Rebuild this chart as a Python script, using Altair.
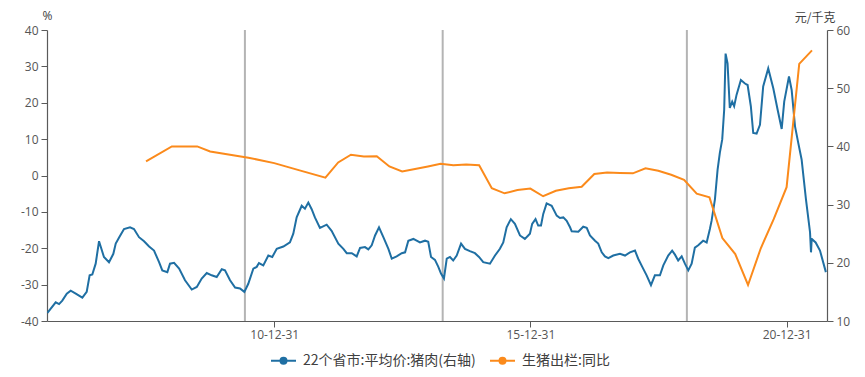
import altair as alt
import pandas as pd

# ---------------- data ----------------
# blue series: 22 provinces average pork price (元/千克), x as decimal years
price_years = [
    2006.570, 2006.734, 2006.798, 2006.863, 2006.948, 2007.027, 2007.124, 2007.253, 2007.339, 2007.397,
    2007.448, 2007.514, 2007.579, 2007.676, 2007.774, 2007.858, 2007.905, 2007.969, 2008.067, 2008.184,
    2008.262, 2008.360, 2008.457, 2008.555, 2008.652, 2008.750, 2008.814, 2008.912, 2008.964, 2009.043,
    2009.140, 2009.257, 2009.388, 2009.486, 2009.583, 2009.681, 2009.778, 2009.876, 2009.973, 2010.038,
    2010.135, 2010.233, 2010.331, 2010.415, 2010.493, 2010.590, 2010.657, 2010.701, 2010.785, 2010.883,
    2010.961, 2011.047, 2011.176, 2011.306, 2011.371, 2011.437, 2011.535, 2011.599, 2011.664, 2011.730,
    2011.794, 2011.892, 2012.023, 2012.120, 2012.249, 2012.347, 2012.413, 2012.511, 2012.608, 2012.673,
    2012.770, 2012.835, 2012.901, 2012.965, 2013.043, 2013.127, 2013.225, 2013.291, 2013.389, 2013.486,
    2013.551, 2013.615, 2013.713, 2013.843, 2013.941, 2014.005, 2014.058, 2014.136, 2014.201, 2014.253,
    2014.312, 2014.365, 2014.429, 2014.493, 2014.560, 2014.644, 2014.722, 2014.819, 2014.917, 2014.995,
    2015.079, 2015.210, 2015.307, 2015.405, 2015.469, 2015.536, 2015.619, 2015.698, 2015.795, 2015.893,
    2015.990, 2016.035, 2016.101, 2016.152, 2016.205, 2016.250, 2016.316, 2016.414, 2016.511, 2016.576,
    2016.640, 2016.707, 2016.771, 2016.804, 2016.933, 2017.030, 2017.097, 2017.161, 2017.259, 2017.323,
    2017.390, 2017.454, 2017.518, 2017.616, 2017.747, 2017.844, 2017.942, 2018.039, 2018.104, 2018.182,
    2018.268, 2018.352, 2018.430, 2018.527, 2018.592, 2018.689, 2018.767, 2018.820, 2018.884, 2018.951,
    2019.015, 2019.080, 2019.146, 2019.210, 2019.275, 2019.372, 2019.439, 2019.503, 2019.536, 2019.601,
    2019.653, 2019.698, 2019.743, 2019.782, 2019.810, 2019.849, 2019.893, 2019.938, 2019.977, 2020.024,
    2020.108, 2020.186, 2020.239, 2020.303, 2020.348, 2020.414, 2020.479, 2020.543, 2020.641, 2020.738,
    2020.824, 2020.902, 2020.953, 2021.045, 2021.097, 2021.162, 2021.226, 2021.293, 2021.377, 2021.455,
    2021.474, 2021.488, 2021.566, 2021.650, 2021.767,
]
price_values = [
    11.4, 13.2, 12.9, 13.5, 14.7, 15.2, 14.7, 14.0, 15.0, 17.85,
    18.0, 19.85, 23.7, 21.0, 20.1, 21.55, 23.3, 24.3, 25.8, 26.1,
    25.8, 24.4, 23.7, 22.8, 22.1, 20.1, 18.7, 18.4, 19.85, 20.0,
    19.0, 17.0, 15.4, 15.85, 17.3, 18.25, 17.85, 17.55, 18.9, 18.7,
    17.0, 15.75, 15.6, 15.0, 16.4, 19.0, 19.3, 19.95, 19.55, 21.25,
    21.0, 22.4, 22.8, 23.5, 25.0, 27.8, 29.8, 29.3, 30.35, 29.2,
    27.8, 26.0, 26.55, 25.5, 23.3, 22.4, 21.65, 21.65, 21.1, 22.55,
    22.7, 22.3, 23.0, 24.7, 26.1, 24.4, 22.4, 20.7, 21.1, 21.65,
    21.8, 23.8, 24.1, 23.5, 23.8, 23.6, 21.0, 20.5, 19.3, 18.15,
    17.3, 20.7, 21.0, 20.4, 21.25, 23.3, 22.4, 22.0, 21.65, 21.0,
    20.1, 19.85, 21.25, 22.4, 23.5, 26.1, 27.5, 26.7, 24.7, 24.1,
    25.0, 26.7, 27.5, 26.4, 26.4, 28.4, 30.2, 29.8, 28.1, 27.7,
    27.8, 27.2, 26.1, 25.4, 25.35, 26.2, 26.0, 24.7, 23.8, 23.3,
    21.8, 21.1, 20.8, 21.25, 21.55, 21.25, 21.8, 22.1, 20.7, 19.3,
    17.85, 16.15, 17.85, 17.85, 19.55, 21.25, 22.1, 21.4, 20.4, 21.1,
    19.85, 18.7, 19.85, 22.6, 23.0, 23.8, 23.5, 25.8, 27.2, 30.9,
    36.0, 38.9, 41.2, 46.3, 55.95, 54.25, 46.6, 47.7, 46.9, 48.85,
    51.4, 50.8, 50.55, 46.9, 42.3, 42.2, 43.7, 50.3, 53.4, 50.0,
    46.3, 43.0, 47.7, 52.0, 49.7, 43.45, 40.6, 37.75, 30.9, 25.25,
    21.8, 24.1, 23.5, 22.1, 18.4,
]

# orange series: hog slaughter year-on-year (%)
yoy_dates = [
    "2008-06-30", "2008-12-31", "2009-06-30", "2009-09-30", "2010-06-30", "2010-12-31",
    "2011-06-30", "2011-12-31", "2012-03-31", "2012-06-30", "2012-09-30", "2012-12-31",
    "2013-03-31", "2013-06-30", "2013-09-30", "2013-12-31", "2014-03-31", "2014-06-30",
    "2014-09-30", "2014-12-31", "2015-03-31", "2015-06-30", "2015-09-30", "2015-12-31",
    "2016-03-31", "2016-06-30", "2016-09-30", "2016-12-31", "2017-03-31", "2017-06-30",
    "2017-09-30", "2017-12-31", "2018-03-31", "2018-06-30", "2018-09-30", "2018-12-31",
    "2019-03-31", "2019-06-30", "2019-09-30", "2019-12-31", "2020-03-31", "2020-06-30",
    "2020-09-30", "2020-12-31", "2021-03-31", "2021-06-30",
]
yoy_values = [
    3.9, 8.0, 8.0, 6.6, 4.9, 3.4,
    1.4, -0.6, 3.6, 5.7, 5.2, 5.3,
    2.5, 1.1, 1.8, 2.5, 3.2, 2.8,
    3.0, 2.8, -3.5, -4.9, -4.0, -3.6,
    -5.7, -4.2, -3.5, -3.1, 0.4, 0.8,
    0.7, 0.6, 2.0, 1.3, 0.2, -1.2,
    -5.0, -6.0, -17.2, -21.6, -30.1, -20.0,
    -12.0, -3.2, 30.7, 34.4,
]

# grey vertical marker lines
marker_dates = ["2010-06-05", "2014-04-15", "2019-01-20"]

left_ticks = [-40, -30, -20, -10, 0, 10, 20, 30, 40]
right_ticks = [10, 20, 30, 40, 50, 60]

BLUE_NAME = "22个省市:平均价:猪肉(右轴)"
ORANGE_NAME = "生猪出栏:同比"
BLUE = "#1f6fa3"
ORANGE = "#fb8a1b"

PLOT_W = 780
PLOT_H = 291


def year_to_date(y):
    yr = int(y)
    start = pd.Timestamp(year=yr, month=1, day=1)
    end = pd.Timestamp(year=yr + 1, month=1, day=1)
    return (start + (end - start) * (y - yr)).strftime("%Y-%m-%d")


price_df = pd.DataFrame({
    "date": [year_to_date(y) for y in price_years],
    "value": price_values,
    "series": BLUE_NAME,
})
yoy_df = pd.DataFrame({"date": yoy_dates, "value": yoy_values, "series": ORANGE_NAME})
marker_df = pd.DataFrame({"date": marker_dates})

LABEL_FONT = "Open Sans"
CJK_FONT = "Noto Sans CJK SC"
AX_COLOR = "#5a5a5a"

x_scale = alt.Scale(domain=[alt.DateTime(year=2006, month=7, date=25),
                            alt.DateTime(year=2021, month=10, date=15)])
x_axis = alt.Axis(
    values=[alt.DateTime(year=2010, month=12, date=31),
            alt.DateTime(year=2015, month=12, date=31),
            alt.DateTime(year=2020, month=12, date=31)],
    format="%y-%m-%d", title=None, grid=False, labelPadding=2,
)
x_enc = alt.X("date:T", scale=x_scale, axis=x_axis)

color_scale = alt.Scale(domain=[BLUE_NAME, ORANGE_NAME], range=[BLUE, ORANGE])

SYMBOL = ("M-1,0L1,0"
          "M0.24,0A0.24,0.24,0,1,1,-0.24,0A0.24,0.24,0,1,1,0.24,0"
          "M0.14,0A0.14,0.14,0,1,1,-0.14,0A0.14,0.14,0,1,1,0.14,0"
          "M0.05,0A0.05,0.05,0,1,1,-0.05,0A0.05,0.05,0,1,1,0.05,0")

legend = alt.Legend(
    title=None, orient="none", legendX=223, legendY=317, direction="horizontal",
    symbolType=SYMBOL, symbolSize=625, symbolStrokeWidth=2,
    labelFont=CJK_FONT, labelFontSize=14, labelColor="#404040", labelLimit=0,
    labelOffset=6, columnPadding=10,
)

rules = alt.Chart(marker_df).mark_rule(color="#b4b4b4", strokeWidth=2).encode(
    x=x_enc, y=alt.value(0), y2=alt.value(PLOT_H)
)

price_line = alt.Chart(price_df).mark_line(strokeWidth=2, clip=True).encode(
    x=x_enc,
    y=alt.Y("value:Q",
            scale=alt.Scale(domain=[10, 60], nice=False, zero=False),
            axis=alt.Axis(orient="right", values=right_ticks, grid=False,
                          title="元/千克", titleAngle=0, titleX=8, titleY=-13,
                          titleAlign="right", titleBaseline="middle",
                          titleFont=CJK_FONT, titleFontSize=12, titleFontWeight="normal",
                          titleColor="#404040", labelPadding=3)),
    color=alt.Color("series:N", scale=color_scale, legend=legend),
)

yoy_line = alt.Chart(yoy_df).mark_line(strokeWidth=2, clip=True).encode(
    x=x_enc,
    y=alt.Y("value:Q",
            scale=alt.Scale(domain=[-40, 40], nice=False, zero=False),
            axis=alt.Axis(orient="left", values=left_ticks, grid=False,
                          labelExpr="'' + datum.value",
                          title="%", titleAngle=0, titleX=0, titleY=-15,
                          titleAlign="center", titleBaseline="middle",
                          titleFont=LABEL_FONT, titleFontSize=12, titleFontWeight="normal",
                          titleColor="#404040", labelPadding=3)),
    color=alt.Color("series:N", scale=color_scale, legend=legend),
)

chart = (
    alt.layer(rules, price_line, yoy_line)
    .resolve_scale(y="independent")
    .properties(
        width=PLOT_W, height=PLOT_H,
        autosize=alt.AutoSizeParams(type="none"),
        padding={"left": 39, "top": 22, "right": 30, "bottom": 48},
    )
    .configure_view(stroke=None)
    .configure_axis(
        domainColor=AX_COLOR, domainWidth=1.2, tickColor=AX_COLOR, tickSize=6, tickWidth=1,
        labelFont=LABEL_FONT, labelFontSize=12, labelColor="#555555",
    )
)

chart.save("out.html", embed_options={"renderer": "svg", "actions": False})
